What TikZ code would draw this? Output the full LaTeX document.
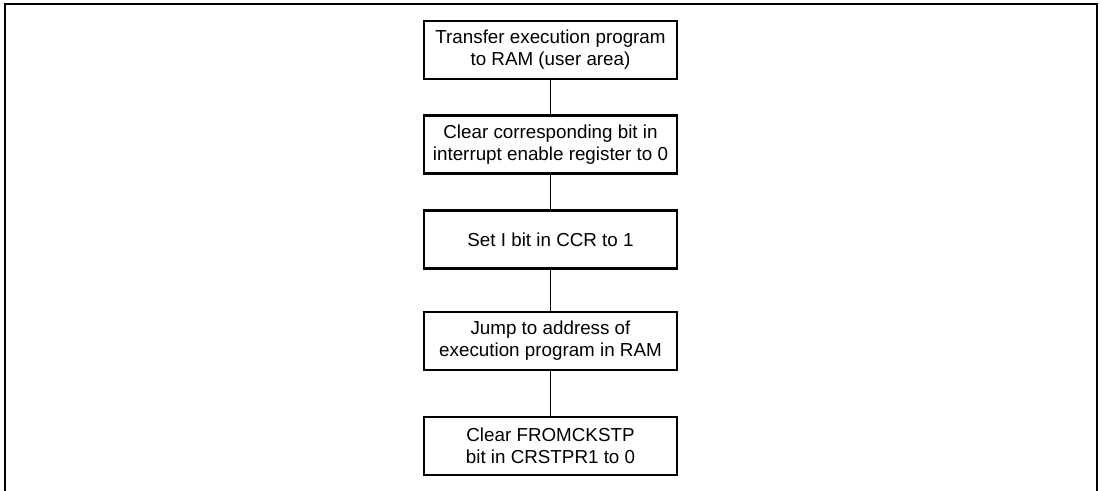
\documentclass[tikz,border=0pt]{standalone}
\usepackage{fontspec}
\setmainfont{Liberation Sans}
\usetikzlibrary{positioning}

\begin{document}
\begin{tikzpicture}[
  x=0.5pt,y=-0.5pt,
  stepbox/.style={draw,line width=1.1pt,minimum width=126.5pt,minimum height=29pt,
    inner sep=0pt,align=center,font=\fontsize{9.4}{11}\selectfont},
  link/.style={line width=0.5pt}
]
  \useasboundingbox (0,0) rectangle (1102,491);
  % outer frame, open at the bottom
  \draw[line width=1.2pt] (5,491) |- (1097,4) -- (1097,491);

  \node[stepbox] (load) at (550.5,50) {Transfer execution program\\to RAM (user area)};
  \node[stepbox] (clrbit) at (550.5,144.5) {Clear corresponding bit in\\interrupt enable register to 0};
  \node[stepbox] (setI) at (550.5,239.5) {Set I bit in CCR to 1};
  \node[stepbox] (jump) at (550.5,341) {Jump to address of\\execution program in RAM};
  \node[stepbox] (clrfrom) at (550.5,446) {Clear FROMCKSTP\\bit in CRSTPR1 to 0};

  \draw[link] (load) -- (clrbit);
  \draw[link] (clrbit) -- (setI);
  \draw[link] (setI) -- (jump);
  \draw[link] (jump) -- (clrfrom);
\end{tikzpicture}
\end{document}
